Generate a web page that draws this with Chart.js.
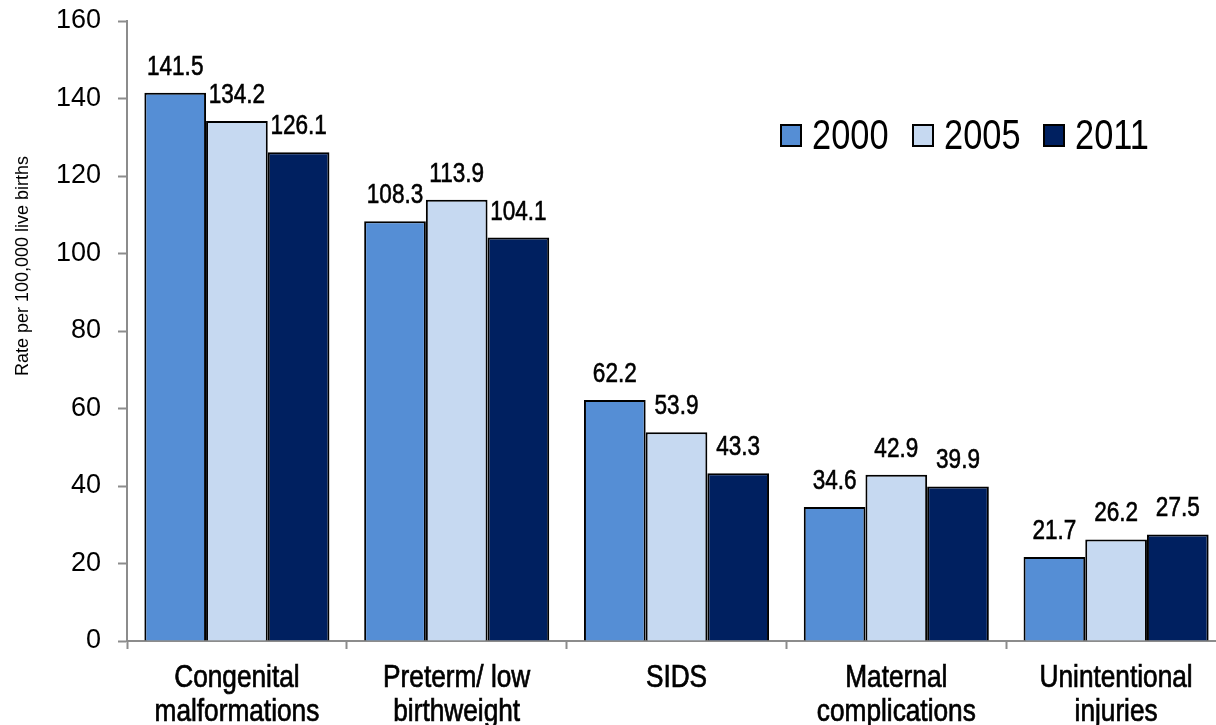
<!DOCTYPE html>
<html>
<head>
<meta charset="utf-8">
<script src="https://cdn.jsdelivr.net/npm/chart.js@4.4.1/dist/chart.umd.min.js"></script>
<style>
  html, body { margin: 0; padding: 0; background: #fff; overflow: hidden; }
  #wrap { width: 1226px; height: 725px; }
</style>
</head>
<body>
<div id="wrap"><canvas id="c" width="1226" height="725"></canvas></div>
<script>
const categories = [
  ['Congenital', 'malformations'],
  ['Preterm/ low', 'birthweight'],
  ['SIDS'],
  ['Maternal', 'complications'],
  ['Unintentional', 'injuries']
];
const years = ['2000', '2005', '2011'];
const rates2000 = [141.5, 108.3, 62.2, 34.6, 21.7];
const rates2005 = [134.2, 113.9, 53.9, 42.9, 26.2];
const rates2011 = [126.1, 104.1, 43.3, 39.9, 27.5];
const yTicks = [0, 20, 40, 60, 80, 100, 120, 140, 160];
const yTitle = 'Rate per 100,000 live births';

const SANS = '"Liberation Sans", Arial, sans-serif';
const colors = ['#558ED5', '#C6D9F1', '#002060'];
const axisGray = '#8c8c8c';

// draws text squeezed horizontally, giving a narrow face
function narrowText(ctx, text, x, y, size, squeeze, align, heavy) {
  ctx.save();
  ctx.font = size + 'px ' + SANS;
  ctx.textBaseline = 'alphabetic';
  ctx.textAlign = 'left';
  const w = ctx.measureText(text).width * squeeze;
  let left = x;
  if (align === 'center') left = x - w / 2;
  else if (align === 'right') left = x - w;
  ctx.translate(left, y);
  ctx.scale(squeeze, 1);
  ctx.fillStyle = '#000';
  ctx.fillText(text, 0, 0);
  if (heavy) {
    ctx.strokeStyle = '#000';
    ctx.lineWidth = heavy;
    ctx.strokeText(text, 0, 0);
  }
  ctx.restore();
}

// value labels above each bar
const valueLabels = {
  id: 'valueLabels',
  afterDatasetsDraw(chart) {
    const ctx = chart.ctx;
    chart.data.datasets.forEach((ds, i) => {
      chart.getDatasetMeta(i).data.forEach((bar, j) => {
        narrowText(ctx, ds.data[j].toFixed(1), bar.x, bar.y - 18, 27.5, 0.82, 'center', 0.6);
      });
    });
  }
};

// category names under the x axis, legend row and rotated y title
const decorations = {
  id: 'decorations',
  afterDraw(chart) {
    const ctx = chart.ctx;
    ctx.save();
    const xs = chart.scales.x;
    chart.data.labels.forEach((lines, i) => {
      const cx = xs.getPixelForTick(i);
      lines.forEach((line, k) => {
        narrowText(ctx, line, cx, 687 + k * 34, 30.5, 0.86, 'center', 0.7);
      });
    });

    const boxX = [781, 913, 1044];
    chart.data.datasets.forEach((ds, i) => {
      ctx.fillStyle = ds.backgroundColor;
      ctx.fillRect(boxX[i], 125, 20, 21);
      ctx.lineWidth = 2;
      ctx.strokeStyle = '#000';
      ctx.strokeRect(boxX[i], 125, 20, 21);
      narrowText(ctx, ds.label, boxX[i] + 31, 149, 43, 0.8, 'left', 0);
    });

    ctx.fillStyle = '#000';
    ctx.translate(23, 266);
    ctx.rotate(-Math.PI / 2);
    ctx.font = '18px ' + SANS;
    ctx.textAlign = 'center';
    ctx.textBaseline = 'middle';
    ctx.fillText(yTitle, 0, 0);
    ctx.restore();
  }
};

const seriesValues = [rates2000, rates2005, rates2011];

new Chart(document.getElementById('c'), {
  type: 'bar',
  data: {
    labels: categories,
    datasets: years.map((y, i) => ({
      label: y,
      data: seriesValues[i],
      backgroundColor: colors[i],
      borderColor: '#000',
      borderWidth: 2,
      borderSkipped: 'bottom',
      categoryPercentage: 0.842,
      barPercentage: 1.0
    }))
  },
  options: {
    responsive: false,
    animation: false,
    devicePixelRatio: 1,
    layout: { padding: { top: 21, left: 0, right: 0, bottom: 0 } },
    plugins: {
      legend: { display: false },
      tooltip: { enabled: false }
    },
    scales: {
      x: {
        offset: true,
        grid: {
          display: true,
          offset: true,
          drawOnChartArea: false,
          drawTicks: true,
          tickLength: 8,
          tickWidth: 2,
          color: axisGray
        },
        border: { display: true, color: axisGray, width: 2 },
        ticks: { display: false },
        afterFit(scale) {
          scale.height = 84;
          scale.paddingLeft = 0;
          scale.paddingRight = 0;
        }
      },
      y: {
        min: 0,
        max: 160,
        afterBuildTicks(scale) { scale.ticks = yTicks.map(v => ({ value: v })); },
        grid: {
          display: true,
          drawOnChartArea: false,
          drawTicks: true,
          tickLength: 9,
          tickWidth: 2,
          color: axisGray
        },
        border: { display: true, color: axisGray, width: 2 },
        ticks: {
          color: '#000',
          font: { family: SANS, size: 27 },
          padding: 17
        },
        afterFit(scale) {
          scale.width = 127;
          scale.paddingTop = 0;
          scale.paddingBottom = 0;
        }
      }
    }
  },
  plugins: [valueLabels, decorations]
});
</script>
</body>
</html>
